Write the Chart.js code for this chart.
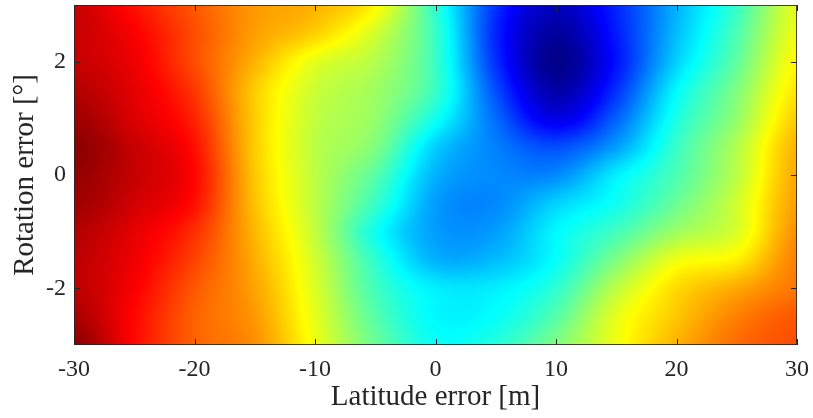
<!DOCTYPE html>
<html>
<head>
<meta charset="utf-8">
<script src="https://cdn.jsdelivr.net/npm/chart.js@4.4.1/dist/chart.umd.min.js"></script>
<style>
  html, body { margin: 0; padding: 0; background: #ffffff; }
  #wrap { width: 813px; height: 418px; }
</style>
</head>
<body>
<div id="wrap"><canvas id="chart" width="813" height="418"></canvas></div>
<script>
// Grid nodes: latitude error [m] (columns) and rotation error [deg] (rows, top to bottom)
const latitudeErr = [-30, -25, -20, -15, -10, -5, 0, 5, 10, 15, 20, 25, 30];
const rotationErr = [3, 2.5, 2, 1.5, 1, 0.5, 0, -0.5, -1, -1.5, -2, -2.5, -3];

// Normalised error level at each node (0 = lowest, 1 = highest)
const errorLevel = [
  [0.93, 0.86, 0.79, 0.725, 0.70, 0.63, 0.42, 0.17, 0.06, 0.16, 0.30, 0.43, 0.60],
  [0.93, 0.88, 0.80, 0.72, 0.67, 0.58, 0.43, 0.16, 0.03, 0.15, 0.31, 0.45, 0.61],
  [0.93, 0.89, 0.80, 0.70, 0.60, 0.55, 0.43, 0.17, 0.01, 0.14, 0.33, 0.47, 0.63],
  [0.95, 0.90, 0.82, 0.675, 0.575, 0.53, 0.43, 0.20, 0.04, 0.17, 0.37, 0.50, 0.65],
  [0.97, 0.91, 0.84, 0.675, 0.565, 0.52, 0.39, 0.23, 0.10, 0.22, 0.40, 0.52, 0.675],
  [0.99, 0.93, 0.86, 0.675, 0.56, 0.50, 0.33, 0.25, 0.20, 0.28, 0.43, 0.55, 0.70],
  [0.98, 0.93, 0.87, 0.68, 0.56, 0.46, 0.30, 0.26, 0.26, 0.36, 0.45, 0.56, 0.71],
  [0.97, 0.92, 0.86, 0.685, 0.56, 0.43, 0.28, 0.26, 0.33, 0.39, 0.48, 0.58, 0.72],
  [0.95, 0.90, 0.83, 0.695, 0.565, 0.39, 0.28, 0.28, 0.37, 0.44, 0.53, 0.59, 0.735],
  [0.94, 0.89, 0.81, 0.705, 0.58, 0.42, 0.30, 0.31, 0.38, 0.50, 0.61, 0.64, 0.75],
  [0.94, 0.88, 0.79, 0.715, 0.59, 0.44, 0.36, 0.36, 0.42, 0.56, 0.66, 0.71, 0.76],
  [0.96, 0.87, 0.78, 0.725, 0.60, 0.46, 0.37, 0.38, 0.46, 0.60, 0.68, 0.75, 0.79],
  [0.99, 0.87, 0.78, 0.735, 0.61, 0.48, 0.385, 0.41, 0.50, 0.61, 0.70, 0.77, 0.80]
];

const xTicks = [-30, -20, -10, 0, 10, 20, 30];
const yTicks = [-2, 0, 2];

const TEXT = '#262626';
const SERIF = "'Liberation Serif', 'DejaVu Serif', serif";

// MATLAB-style jet colour map
function jet(v) {
  v = Math.min(1, Math.max(0, v));
  const ch = t => Math.min(1, Math.max(0, 1.5 - Math.abs(4 * v - t))) * 255;
  return [ch(3), ch(2), ch(1)];
}

// Catmull-Rom weights for smooth shading between grid nodes
function cubic(p0, p1, p2, p3, t) {
  return p1 + 0.5 * t * (p2 - p0 + t * (2 * p0 - 5 * p1 + 4 * p2 - p3 + t * (3 * (p1 - p2) + p3 - p0)));
}

function level(xv, yv) {
  const nx = latitudeErr.length, ny = rotationErr.length;
  const fx = (xv - latitudeErr[0]) / (latitudeErr[1] - latitudeErr[0]);
  const fy = (yv - rotationErr[0]) / (rotationErr[1] - rotationErr[0]);
  const ix = Math.min(nx - 2, Math.max(0, Math.floor(fx)));
  const iy = Math.min(ny - 2, Math.max(0, Math.floor(fy)));
  const tx = Math.min(1, Math.max(0, fx - ix));
  const ty = Math.min(1, Math.max(0, fy - iy));
  const cx = i => Math.min(nx - 1, Math.max(0, i));
  const cy = j => Math.min(ny - 1, Math.max(0, j));
  const rows = [];
  for (let m = -1; m <= 2; m++) {
    const r = errorLevel[cy(iy + m)];
    rows.push(cubic(r[cx(ix - 1)], r[cx(ix)], r[cx(ix + 1)], r[cx(ix + 2)], tx));
  }
  return cubic(rows[0], rows[1], rows[2], rows[3], ty);
}

// One invisible point per grid node
const nodes = [];
rotationErr.forEach((r, j) => latitudeErr.forEach((l, i) => nodes.push({ x: l, y: r, v: errorLevel[j][i] })));

const heatLayer = {
  id: 'heatLayer',
  beforeDatasetsDraw(chart) {
    const { ctx, chartArea: a, scales: { x, y } } = chart;
    const w = Math.round(a.right - a.left), h = Math.round(a.bottom - a.top);
    const off = document.createElement('canvas');
    off.width = w; off.height = h;
    const octx = off.getContext('2d');
    const img = octx.createImageData(w, h);
    const xs = new Float64Array(w);
    for (let i = 0; i < w; i++) xs[i] = x.getValueForPixel(a.left + i + 0.5);
    for (let j = 0; j < h; j++) {
      const yv = y.getValueForPixel(a.top + j + 0.5);
      for (let i = 0; i < w; i++) {
        const c = jet(level(xs[i], yv));
        const k = (j * w + i) * 4;
        img.data[k] = c[0]; img.data[k + 1] = c[1]; img.data[k + 2] = c[2]; img.data[k + 3] = 255;
      }
    }
    octx.putImageData(img, 0, 0);
    ctx.drawImage(off, a.left, a.top);
  },
  afterDatasetsDraw(chart) {
    const { ctx, chartArea: a, scales: { x, y } } = chart;
    const len = 6;
    ctx.save();
    ctx.strokeStyle = TEXT;
    ctx.lineWidth = 1;
    ctx.beginPath();
    xTicks.forEach(v => {
      const px = Math.round(x.getPixelForValue(v)) + 0.5;
      ctx.moveTo(px, a.bottom); ctx.lineTo(px, a.bottom - len);
      ctx.moveTo(px, a.top); ctx.lineTo(px, a.top + len);
    });
    yTicks.forEach(v => {
      const py = Math.round(y.getPixelForValue(v)) + 0.5;
      ctx.moveTo(a.left, py); ctx.lineTo(a.left + len, py);
      ctx.moveTo(a.right, py); ctx.lineTo(a.right - len, py);
    });
    ctx.stroke();
    ctx.strokeStyle = 'rgba(38,38,38,0.85)';
    ctx.strokeRect(Math.round(a.left) + 0.5, Math.round(a.top) + 0.5,
                   Math.round(a.right - a.left) - 1, Math.round(a.bottom - a.top) - 1);
    ctx.restore();
  }
};

new Chart(document.getElementById('chart'), {
  type: 'scatter',
  data: { datasets: [{ data: nodes, pointRadius: 0, pointHoverRadius: 0, showLine: false }] },
  options: {
    responsive: false,
    animation: false,
    events: [],
    layout: { padding: { top: 5, right: 16, left: 0, bottom: 0 } },
    plugins: { legend: { display: false }, tooltip: { enabled: false } },
    scales: {
      x: {
        type: 'linear', min: -30, max: 30,
        afterBuildTicks: s => { s.ticks = xTicks.map(v => ({ value: v })); },
        afterFit: s => { s.height = 73; s.paddingLeft = 0; s.paddingRight = 0; },
        grid: { display: false, drawTicks: false },
        border: { display: false },
        ticks: { padding: 10, color: TEXT, font: { family: SERIF, size: 24 }, maxRotation: 0, callback: v => String(v) },
        title: { display: true, text: 'Latitude error [m]', color: TEXT, font: { family: SERIF, size: 29 }, padding: { top: 0, bottom: 3 } }
      },
      y: {
        type: 'linear', min: -3, max: 3,
        afterBuildTicks: s => { s.ticks = yTicks.map(v => ({ value: v })); },
        afterFit: s => { s.width = 74; s.paddingTop = 0; s.paddingBottom = 0; },
        grid: { display: false, drawTicks: false },
        border: { display: false },
        ticks: { padding: 8, color: TEXT, font: { family: SERIF, size: 24 }, callback: v => String(v) },
        title: { display: true, text: 'Rotation error [°]', color: TEXT, font: { family: SERIF, size: 29 }, padding: { top: 8, bottom: 0 } }
      }
    }
  },
  plugins: [heatLayer]
});
</script>
</body>
</html>
